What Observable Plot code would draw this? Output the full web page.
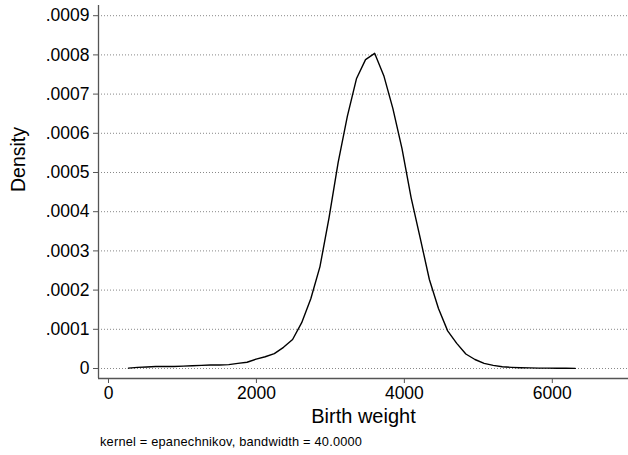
<!DOCTYPE html>
<html>
<head>
<meta charset="utf-8">
<script src="https://cdn.jsdelivr.net/npm/d3@7"></script>
<script src="https://cdn.jsdelivr.net/npm/@observablehq/plot@0.6"></script>
<style>
  html, body { margin: 0; padding: 0; background: #fff; }
  body { width: 628px; height: 455px; overflow: hidden; font-family: "Liberation Sans", Arial, Helvetica, sans-serif; }
  #chart svg { display: block; }
  #note { font-size: 12.8px; color: #000; padding-left: 100px; margin-top: 4px; line-height: 15px; letter-spacing: 0.2px; }
</style>
</head>
<body>
<div id="chart"></div>
<div id="note"></div>
<script>
// Kernel density estimate of birth weight, evaluated on a 50-point grid
const weights = [270, 393, 517, 640, 763, 886, 1010, 1133, 1256, 1379,
  1503, 1626, 1749, 1873, 1996, 2119, 2242, 2366, 2489, 2612,
  2735, 2859, 2982, 3105, 3229, 3352, 3475, 3598, 3722, 3845,
  3968, 4091, 4215, 4338, 4461, 4585, 4708, 4831, 4954, 5078,
  5201, 5324, 5447, 5571, 5694, 5817, 5941, 6064, 6187, 6310];
const density = [0.000001, 0.000003, 0.000004, 0.000005, 0.000005, 0.000005, 0.000006, 0.000007, 0.000008, 0.000009,
  0.000009, 0.000010, 0.000013, 0.000016, 0.000024, 0.000030, 0.000038, 0.000054, 0.000074, 0.000117,
  0.000178, 0.000260, 0.000385, 0.000526, 0.000643, 0.000739, 0.000788, 0.000804, 0.000747, 0.000663,
  0.000561, 0.000436, 0.000332, 0.000227, 0.000153, 0.000096, 0.000064, 0.000037, 0.000023, 0.000013,
  0.000008, 0.0000045, 0.000003, 0.000002, 0.0000015, 0.000001, 0.000001, 0.0000008, 0.0000005, 0.0000003];

const xTicks = [0, 2000, 4000, 6000];
const yTicks = [0, 0.0001, 0.0002, 0.0003, 0.0004, 0.0005, 0.0006, 0.0007, 0.0008, 0.0009];
const xDomain = [-135, 7030];
const yDomain = [-0.0000255, 0.000926];

const xLabel = "Birth weight";
const yLabel = "Density";
const note = "kernel = epanechnikov, bandwidth = 40.0000";

const curve = weights.map((w, i) => ({w, d: density[i]}));
const fmtY = d => d === 0 ? "0" : d3.format(".4f")(d).replace(/^0/, "");

const axisColor = "#555";

const chart = Plot.plot({
  width: 628,
  height: 430,
  marginLeft: 98,
  marginRight: 0,
  marginTop: 5,
  marginBottom: 52,
  style: {fontFamily: '"Liberation Sans", Arial, Helvetica, sans-serif', background: "#fff", overflow: "visible"},
  x: {domain: xDomain},
  y: {domain: yDomain},
  marks: [
    Plot.gridY(yTicks, {stroke: "#888", strokeOpacity: 1, strokeDasharray: "1,2", strokeWidth: 1}),
    Plot.ruleX([xDomain[0]], {stroke: axisColor, strokeWidth: 1.3}),
    Plot.ruleY([yDomain[0]], {stroke: axisColor, strokeWidth: 1.3}),
    Plot.axisY(yTicks, {tickFormat: fmtY, tickSize: 5, tickPadding: 4, fontSize: 17.5, stroke: axisColor, fill: "#000", label: null}),
    Plot.axisX(xTicks, {tickFormat: d => String(d), tickSize: 5, tickPadding: 3, fontSize: 17.5, stroke: axisColor, fill: "#000", label: null}),
    Plot.text([xLabel], {frameAnchor: "bottom", dy: 38, lineAnchor: "middle", fontSize: 20, fill: "#000"}),
    Plot.text([yLabel], {frameAnchor: "left", dx: -80, rotate: -90, fontSize: 19.5, fill: "#000"}),
    Plot.line(curve, {x: "w", y: "d", stroke: "#000", strokeWidth: 1.4})
  ]
});
document.getElementById("chart").append(chart);
document.getElementById("note").textContent = note;
</script>
</body>
</html>
